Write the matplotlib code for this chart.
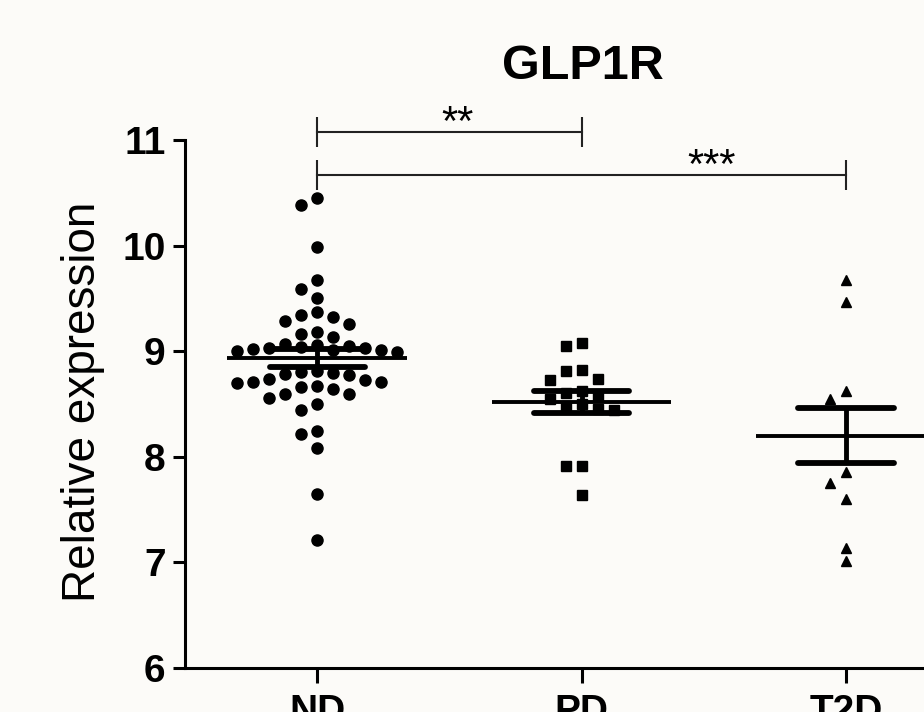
import numpy as np
import matplotlib.pyplot as plt

# groups and values
groups = ['ND', 'PD', 'T2D']
nd_values = [10.45, 10.38, 9.99, 9.67, 9.59, 9.50, 9.37, 9.34, 9.32, 9.29, 9.26, 9.18, 9.16, 9.13,
             9.07, 9.06, 9.05, 9.04, 9.03, 9.03, 9.02, 9.01, 9.01, 9.00, 8.99,
             8.81, 8.80, 8.79, 8.78, 8.77, 8.74, 8.73, 8.71, 8.71, 8.70, 8.67, 8.66, 8.64,
             8.59, 8.59, 8.56, 8.50, 8.44, 8.24, 8.22, 8.08, 7.65, 7.21]
pd_values = [9.08, 9.05, 8.82, 8.81, 8.74, 8.73, 8.62, 8.60, 8.58, 8.55, 8.50, 8.47, 8.45, 8.44,
             7.91, 7.91, 7.64]
t2d_values = [9.67, 9.47, 8.62, 8.55, 7.86, 7.75, 7.60, 7.14, 7.01]
group_means = [8.94, 8.52, 8.20]
group_sems = [0.085, 0.105, 0.26]
markers = ['o', 's', '^']
marker_sizes = [8, 7.5, 6.5]

# significance brackets: (from group, to group, label)
brackets = [(0, 1, '**'), (0, 2, '***')]
bracket_levels = [11.076, 10.67]

plt.rcParams['font.family'] = ['Liberation Sans', 'DejaVu Sans']

fig = plt.figure(figsize=(9.24, 7.12), dpi=100, facecolor='#fcfbf8')
ax = fig.add_axes([185 / 924, 44 / 712, 739 / 924, 528 / 712])
ax.set_facecolor('#fcfbf8')
ax.set_xlim(-0.5, 2.295)
ax.set_ylim(6, 11)


# simple beeswarm: spread points sideways so that they don't overlap
def swarm_offsets(values, xc, step_px=16, min_dist=12):
    to_px = ax.transData.transform
    px_per_x = to_px((1, 0))[0] - to_px((0, 0))[0]
    ypx = [to_px((xc, v))[1] for v in values]
    order = np.argsort(values)[::-1]
    placed = []
    offsets = np.zeros(len(values))
    for i in order:
        for k in [0, -1, 1, -2, 2, -3, 3, -4, 4, -5, 5, -6, 6, -7, 7]:
            ok = True
            for kk, yy in placed:
                if np.hypot((k - kk) * step_px, ypx[i] - yy) < min_dist:
                    ok = False
                    break
            if ok:
                break
        placed.append((k, ypx[i]))
        offsets[i] = k
    return offsets * step_px / px_per_x


all_values = [nd_values, pd_values, t2d_values]
for i, vals in enumerate(all_values):
    xs = i + swarm_offsets(vals, i)
    ax.plot(xs, vals, linestyle='none', marker=markers[i], markersize=marker_sizes[i],
            color='black', zorder=2)
    m = group_means[i]
    s = group_sems[i]
    ax.hlines(m, i - 0.34, i + 0.34, color='black', lw=2.8, zorder=3)
    ax.hlines([m - s, m + s], i - 0.18, i + 0.18, color='black', lw=4.2,
              capstyle='round', zorder=3)
    ax.vlines(i, m - s, m + s, color='black', lw=3.5, zorder=3)

for (a, b, label), lvl in zip(brackets, bracket_levels):
    ax.plot([a, b], [lvl, lvl], color='#222222', lw=1.5, clip_on=False)
    ax.vlines([a, b], lvl - 0.14, lvl + 0.14, color='#222222', lw=1.5, clip_on=False)
    ax.text((a + b) / 2 + (0.03 if b == 1 else 0.49), lvl - 0.03, label, ha='center',
            va='baseline', fontsize=30, clip_on=False)

ax.spines['top'].set_visible(False)
ax.spines['right'].set_visible(False)
ax.spines['left'].set_linewidth(2.2)
ax.spines['bottom'].set_linewidth(2.2)

ax.set_yticks([6, 7, 8, 9, 10, 11])
ax.set_xticks([0, 1, 2])
ax.set_xticklabels(groups)
ax.tick_params(axis='y', length=9, width=2.2, pad=5, labelsize=28)
ax.tick_params(axis='x', length=11, width=2.2, pad=8, labelsize=28)
for lab in ax.get_yticklabels() + ax.get_xticklabels():
    lab.set_fontweight('bold')

fig.text(83 / 924, 1 - 402 / 712, 'Relative expression', rotation=90, ha='center',
         va='center', fontsize=33)
fig.text(583 / 924, 1 - 79 / 712, 'GLP1R', ha='center', va='baseline', fontsize=35,
         fontweight='bold')

plt.savefig('out.png', dpi=100, facecolor=fig.get_facecolor())
